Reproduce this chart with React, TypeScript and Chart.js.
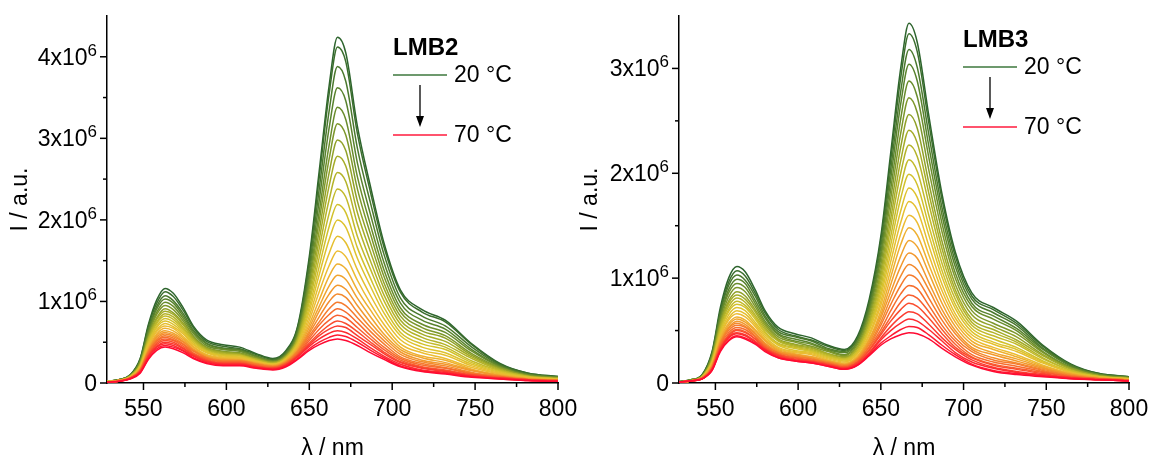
import React, { useEffect, useRef } from "react";
import { Chart, registerables } from "chart.js";

Chart.register(...registerables);

// ---------------- data (intensities in units of 10^6) ----------------
const WAVELENGTHS = [528, 535, 542, 548, 553, 558, 563, 568, 574, 580, 588, 598, 608, 618, 628, 636, 643, 650, 656, 662, 667, 672, 679, 687, 695, 705, 718, 732, 748, 765, 782, 800];

const TEMPERATURES = [20, 22, 24, 26, 28, 30, 32, 34, 36, 38, 40, 42, 44, 46, 48, 50, 52, 54, 56, 58, 60, 62, 64, 66, 68, 70];

const LMB2_SPECTRA = [
  [0.02, 0.04, 0.10, 0.30, 0.72, 1.02, 1.16, 1.10, 0.92, 0.70, 0.53, 0.47, 0.44, 0.36, 0.30, 0.40, 0.70, 1.55, 2.60, 3.65, 4.24, 4.05, 3.15, 2.40, 1.72, 1.14, 0.90, 0.77, 0.48, 0.24, 0.12, 0.08],
  [0.02, 0.04, 0.10, 0.29, 0.70, 0.98, 1.12, 1.06, 0.89, 0.68, 0.51, 0.45, 0.42, 0.35, 0.29, 0.39, 0.68, 1.50, 2.52, 3.55, 4.12, 3.94, 3.06, 2.33, 1.67, 1.11, 0.87, 0.75, 0.47, 0.23, 0.12, 0.08],
  [0.02, 0.04, 0.09, 0.28, 0.66, 0.94, 1.07, 1.01, 0.85, 0.65, 0.49, 0.43, 0.41, 0.33, 0.28, 0.37, 0.65, 1.42, 2.38, 3.34, 3.88, 3.70, 2.88, 2.20, 1.58, 1.04, 0.82, 0.70, 0.44, 0.22, 0.11, 0.07],
  [0.02, 0.04, 0.09, 0.27, 0.64, 0.91, 1.03, 0.98, 0.82, 0.63, 0.48, 0.42, 0.40, 0.33, 0.27, 0.36, 0.63, 1.35, 2.24, 3.13, 3.62, 3.46, 2.70, 2.06, 1.48, 0.98, 0.77, 0.66, 0.41, 0.21, 0.10, 0.07],
  [0.02, 0.04, 0.09, 0.26, 0.62, 0.87, 0.99, 0.94, 0.79, 0.61, 0.46, 0.41, 0.39, 0.32, 0.27, 0.35, 0.60, 1.28, 2.10, 2.92, 3.38, 3.23, 2.53, 1.93, 1.39, 0.92, 0.72, 0.62, 0.39, 0.20, 0.10, 0.07],
  [0.02, 0.03, 0.09, 0.25, 0.59, 0.84, 0.95, 0.90, 0.76, 0.58, 0.44, 0.39, 0.37, 0.31, 0.26, 0.34, 0.58, 1.22, 1.99, 2.75, 3.18, 3.04, 2.38, 1.82, 1.31, 0.87, 0.68, 0.58, 0.36, 0.19, 0.09, 0.06],
  [0.02, 0.03, 0.08, 0.24, 0.57, 0.80, 0.91, 0.86, 0.73, 0.56, 0.43, 0.38, 0.36, 0.30, 0.25, 0.33, 0.56, 1.16, 1.87, 2.58, 2.98, 2.85, 2.23, 1.71, 1.23, 0.82, 0.64, 0.55, 0.34, 0.18, 0.09, 0.06],
  [0.02, 0.03, 0.08, 0.23, 0.55, 0.78, 0.88, 0.84, 0.71, 0.55, 0.42, 0.37, 0.35, 0.29, 0.25, 0.32, 0.54, 1.10, 1.76, 2.42, 2.78, 2.66, 2.09, 1.60, 1.16, 0.77, 0.60, 0.51, 0.32, 0.17, 0.08, 0.06],
  [0.02, 0.03, 0.08, 0.22, 0.54, 0.75, 0.85, 0.81, 0.68, 0.53, 0.41, 0.36, 0.34, 0.29, 0.24, 0.32, 0.53, 1.04, 1.65, 2.25, 2.58, 2.47, 1.95, 1.49, 1.08, 0.72, 0.56, 0.47, 0.30, 0.16, 0.08, 0.05],
  [0.02, 0.03, 0.08, 0.22, 0.52, 0.73, 0.82, 0.78, 0.66, 0.52, 0.40, 0.35, 0.34, 0.28, 0.24, 0.31, 0.51, 0.99, 1.54, 2.08, 2.38, 2.28, 1.80, 1.39, 1.01, 0.67, 0.52, 0.44, 0.27, 0.15, 0.08, 0.05],
  [0.02, 0.03, 0.08, 0.21, 0.50, 0.70, 0.79, 0.75, 0.64, 0.50, 0.39, 0.34, 0.33, 0.27, 0.23, 0.30, 0.49, 0.93, 1.43, 1.92, 2.19, 2.09, 1.66, 1.28, 0.93, 0.62, 0.48, 0.41, 0.25, 0.14, 0.07, 0.05],
  [0.02, 0.03, 0.07, 0.20, 0.48, 0.68, 0.76, 0.72, 0.62, 0.48, 0.38, 0.33, 0.32, 0.27, 0.23, 0.30, 0.48, 0.88, 1.33, 1.76, 2.00, 1.91, 1.53, 1.18, 0.86, 0.58, 0.44, 0.37, 0.23, 0.13, 0.07, 0.05],
  [0.01, 0.03, 0.07, 0.19, 0.47, 0.65, 0.73, 0.69, 0.60, 0.47, 0.37, 0.32, 0.31, 0.26, 0.23, 0.29, 0.46, 0.82, 1.22, 1.59, 1.80, 1.72, 1.39, 1.07, 0.79, 0.53, 0.40, 0.34, 0.21, 0.12, 0.06, 0.04],
  [0.01, 0.03, 0.07, 0.19, 0.45, 0.63, 0.70, 0.67, 0.57, 0.45, 0.35, 0.31, 0.30, 0.26, 0.22, 0.28, 0.44, 0.77, 1.12, 1.44, 1.62, 1.55, 1.26, 0.97, 0.72, 0.48, 0.37, 0.30, 0.19, 0.11, 0.06, 0.04],
  [0.01, 0.03, 0.07, 0.18, 0.43, 0.60, 0.67, 0.64, 0.55, 0.44, 0.34, 0.30, 0.29, 0.25, 0.22, 0.28, 0.43, 0.72, 1.02, 1.31, 1.46, 1.40, 1.14, 0.89, 0.66, 0.44, 0.33, 0.28, 0.17, 0.10, 0.06, 0.04],
  [0.01, 0.03, 0.07, 0.17, 0.41, 0.58, 0.64, 0.61, 0.53, 0.42, 0.33, 0.29, 0.28, 0.24, 0.21, 0.27, 0.41, 0.68, 0.94, 1.19, 1.32, 1.27, 1.04, 0.81, 0.60, 0.41, 0.31, 0.25, 0.16, 0.09, 0.05, 0.03],
  [0.01, 0.03, 0.07, 0.17, 0.40, 0.56, 0.62, 0.59, 0.51, 0.41, 0.32, 0.28, 0.28, 0.24, 0.21, 0.26, 0.40, 0.64, 0.88, 1.09, 1.20, 1.15, 0.95, 0.74, 0.56, 0.38, 0.28, 0.23, 0.15, 0.09, 0.05, 0.03],
  [0.01, 0.03, 0.06, 0.16, 0.39, 0.54, 0.60, 0.57, 0.50, 0.40, 0.31, 0.28, 0.27, 0.23, 0.20, 0.26, 0.39, 0.61, 0.81, 1.00, 1.09, 1.05, 0.87, 0.68, 0.52, 0.35, 0.26, 0.21, 0.13, 0.08, 0.05, 0.03],
  [0.01, 0.03, 0.06, 0.16, 0.38, 0.52, 0.58, 0.55, 0.48, 0.39, 0.31, 0.27, 0.27, 0.23, 0.20, 0.25, 0.38, 0.58, 0.75, 0.91, 0.99, 0.95, 0.80, 0.63, 0.48, 0.32, 0.24, 0.19, 0.12, 0.08, 0.04, 0.03],
  [0.01, 0.02, 0.06, 0.15, 0.37, 0.51, 0.56, 0.53, 0.47, 0.37, 0.30, 0.26, 0.26, 0.22, 0.19, 0.24, 0.36, 0.55, 0.71, 0.84, 0.91, 0.87, 0.74, 0.58, 0.44, 0.30, 0.22, 0.18, 0.11, 0.07, 0.04, 0.03],
  [0.01, 0.02, 0.06, 0.15, 0.35, 0.49, 0.54, 0.52, 0.45, 0.36, 0.29, 0.25, 0.25, 0.21, 0.19, 0.24, 0.35, 0.52, 0.66, 0.77, 0.83, 0.80, 0.68, 0.54, 0.41, 0.28, 0.20, 0.16, 0.10, 0.07, 0.04, 0.03],
  [0.01, 0.02, 0.06, 0.14, 0.34, 0.47, 0.52, 0.50, 0.43, 0.35, 0.28, 0.24, 0.24, 0.21, 0.18, 0.23, 0.34, 0.49, 0.61, 0.71, 0.76, 0.73, 0.63, 0.50, 0.38, 0.26, 0.19, 0.15, 0.10, 0.06, 0.04, 0.02],
  [0.01, 0.02, 0.06, 0.14, 0.33, 0.45, 0.50, 0.48, 0.42, 0.34, 0.27, 0.24, 0.24, 0.20, 0.18, 0.22, 0.33, 0.47, 0.58, 0.66, 0.70, 0.68, 0.58, 0.47, 0.36, 0.25, 0.18, 0.14, 0.09, 0.06, 0.04, 0.02],
  [0.01, 0.02, 0.05, 0.13, 0.32, 0.44, 0.48, 0.46, 0.40, 0.33, 0.26, 0.23, 0.23, 0.19, 0.17, 0.22, 0.32, 0.45, 0.54, 0.61, 0.64, 0.62, 0.54, 0.43, 0.33, 0.23, 0.16, 0.13, 0.08, 0.06, 0.03, 0.02],
  [0.01, 0.02, 0.05, 0.13, 0.30, 0.42, 0.46, 0.44, 0.39, 0.31, 0.25, 0.22, 0.22, 0.19, 0.17, 0.21, 0.30, 0.42, 0.50, 0.56, 0.59, 0.57, 0.50, 0.40, 0.31, 0.21, 0.15, 0.12, 0.08, 0.05, 0.03, 0.02],
  [0.01, 0.02, 0.05, 0.12, 0.29, 0.40, 0.44, 0.42, 0.37, 0.30, 0.24, 0.21, 0.21, 0.18, 0.16, 0.20, 0.29, 0.40, 0.47, 0.52, 0.54, 0.52, 0.46, 0.37, 0.29, 0.20, 0.14, 0.11, 0.07, 0.05, 0.03, 0.02],
];

const LMB3_SPECTRA = [
  [0.01, 0.03, 0.08, 0.30, 0.72, 1.00, 1.11, 1.06, 0.89, 0.69, 0.53, 0.47, 0.43, 0.36, 0.32, 0.45, 0.80, 1.40, 2.20, 3.00, 3.43, 3.25, 2.55, 1.80, 1.25, 0.86, 0.72, 0.59, 0.36, 0.18, 0.09, 0.06],
  [0.01, 0.03, 0.08, 0.29, 0.69, 0.96, 1.07, 1.02, 0.86, 0.67, 0.51, 0.45, 0.41, 0.35, 0.31, 0.43, 0.77, 1.36, 2.13, 2.91, 3.33, 3.16, 2.48, 1.75, 1.21, 0.83, 0.70, 0.57, 0.35, 0.17, 0.09, 0.06],
  [0.01, 0.03, 0.07, 0.28, 0.67, 0.93, 1.03, 0.98, 0.83, 0.64, 0.49, 0.44, 0.40, 0.33, 0.30, 0.42, 0.74, 1.30, 2.04, 2.78, 3.18, 3.01, 2.37, 1.67, 1.16, 0.80, 0.67, 0.55, 0.33, 0.17, 0.08, 0.06],
  [0.01, 0.03, 0.07, 0.27, 0.64, 0.89, 0.99, 0.95, 0.79, 0.62, 0.47, 0.42, 0.38, 0.32, 0.29, 0.40, 0.71, 1.24, 1.95, 2.66, 3.04, 2.88, 2.26, 1.60, 1.11, 0.76, 0.64, 0.52, 0.32, 0.16, 0.08, 0.05],
  [0.01, 0.03, 0.07, 0.26, 0.62, 0.86, 0.95, 0.91, 0.76, 0.59, 0.46, 0.40, 0.37, 0.31, 0.27, 0.39, 0.68, 1.19, 1.85, 2.52, 2.88, 2.73, 2.15, 1.52, 1.05, 0.73, 0.61, 0.50, 0.30, 0.15, 0.08, 0.05],
  [0.01, 0.03, 0.07, 0.25, 0.59, 0.82, 0.91, 0.87, 0.73, 0.57, 0.44, 0.39, 0.35, 0.30, 0.26, 0.37, 0.65, 1.13, 1.76, 2.38, 2.72, 2.58, 2.03, 1.44, 1.00, 0.69, 0.57, 0.47, 0.29, 0.14, 0.07, 0.05],
  [0.01, 0.02, 0.06, 0.24, 0.57, 0.78, 0.87, 0.83, 0.70, 0.55, 0.42, 0.37, 0.34, 0.28, 0.25, 0.35, 0.62, 1.07, 1.66, 2.25, 2.56, 2.43, 1.91, 1.35, 0.94, 0.65, 0.54, 0.44, 0.27, 0.14, 0.07, 0.05],
  [0.01, 0.02, 0.06, 0.23, 0.55, 0.76, 0.84, 0.80, 0.68, 0.53, 0.41, 0.36, 0.33, 0.28, 0.24, 0.34, 0.59, 1.02, 1.57, 2.12, 2.41, 2.29, 1.81, 1.28, 0.89, 0.61, 0.51, 0.41, 0.26, 0.13, 0.07, 0.04],
  [0.01, 0.02, 0.06, 0.22, 0.53, 0.73, 0.81, 0.77, 0.65, 0.51, 0.40, 0.35, 0.32, 0.27, 0.23, 0.33, 0.57, 0.97, 1.49, 2.00, 2.27, 2.16, 1.71, 1.21, 0.85, 0.58, 0.48, 0.39, 0.24, 0.12, 0.06, 0.04],
  [0.01, 0.02, 0.06, 0.21, 0.51, 0.70, 0.78, 0.74, 0.63, 0.49, 0.38, 0.34, 0.31, 0.26, 0.23, 0.31, 0.54, 0.92, 1.40, 1.87, 2.13, 2.02, 1.60, 1.14, 0.80, 0.55, 0.45, 0.37, 0.23, 0.12, 0.06, 0.04],
  [0.01, 0.02, 0.06, 0.20, 0.49, 0.68, 0.75, 0.72, 0.61, 0.48, 0.37, 0.33, 0.30, 0.25, 0.22, 0.30, 0.52, 0.87, 1.32, 1.76, 1.99, 1.89, 1.50, 1.07, 0.75, 0.52, 0.42, 0.34, 0.21, 0.11, 0.06, 0.04],
  [0.01, 0.02, 0.06, 0.20, 0.47, 0.65, 0.72, 0.69, 0.58, 0.46, 0.36, 0.31, 0.29, 0.24, 0.21, 0.29, 0.50, 0.83, 1.24, 1.64, 1.86, 1.77, 1.41, 1.01, 0.71, 0.49, 0.39, 0.32, 0.20, 0.10, 0.06, 0.04],
  [0.01, 0.02, 0.05, 0.19, 0.45, 0.62, 0.69, 0.66, 0.56, 0.44, 0.34, 0.30, 0.28, 0.23, 0.20, 0.28, 0.47, 0.78, 1.16, 1.53, 1.73, 1.65, 1.31, 0.94, 0.66, 0.46, 0.37, 0.30, 0.19, 0.10, 0.05, 0.04],
  [0.01, 0.02, 0.05, 0.18, 0.44, 0.60, 0.66, 0.63, 0.54, 0.42, 0.33, 0.29, 0.27, 0.22, 0.19, 0.26, 0.45, 0.74, 1.08, 1.42, 1.60, 1.53, 1.22, 0.88, 0.62, 0.43, 0.34, 0.27, 0.17, 0.09, 0.05, 0.03],
  [0.01, 0.02, 0.05, 0.17, 0.42, 0.57, 0.63, 0.60, 0.51, 0.41, 0.32, 0.28, 0.25, 0.21, 0.18, 0.25, 0.42, 0.69, 1.01, 1.32, 1.48, 1.41, 1.13, 0.82, 0.58, 0.40, 0.32, 0.25, 0.16, 0.09, 0.05, 0.03],
  [0.01, 0.02, 0.05, 0.17, 0.40, 0.55, 0.61, 0.58, 0.50, 0.40, 0.31, 0.27, 0.25, 0.21, 0.18, 0.24, 0.41, 0.65, 0.94, 1.21, 1.36, 1.30, 1.05, 0.76, 0.54, 0.37, 0.29, 0.23, 0.15, 0.08, 0.05, 0.03],
  [0.01, 0.02, 0.05, 0.16, 0.39, 0.53, 0.59, 0.56, 0.48, 0.38, 0.30, 0.27, 0.24, 0.20, 0.17, 0.23, 0.39, 0.62, 0.87, 1.11, 1.24, 1.19, 0.96, 0.70, 0.50, 0.34, 0.27, 0.21, 0.14, 0.08, 0.04, 0.03],
  [0.01, 0.02, 0.05, 0.16, 0.38, 0.52, 0.57, 0.54, 0.47, 0.37, 0.29, 0.26, 0.23, 0.20, 0.17, 0.23, 0.37, 0.58, 0.81, 1.02, 1.13, 1.08, 0.89, 0.65, 0.47, 0.32, 0.24, 0.19, 0.13, 0.07, 0.04, 0.03],
  [0.01, 0.02, 0.05, 0.15, 0.37, 0.50, 0.55, 0.53, 0.45, 0.36, 0.29, 0.25, 0.23, 0.19, 0.16, 0.22, 0.35, 0.55, 0.75, 0.93, 1.03, 0.99, 0.81, 0.60, 0.43, 0.30, 0.22, 0.18, 0.12, 0.07, 0.04, 0.03],
  [0.01, 0.02, 0.05, 0.14, 0.36, 0.48, 0.53, 0.51, 0.44, 0.35, 0.28, 0.24, 0.22, 0.19, 0.16, 0.21, 0.34, 0.51, 0.69, 0.85, 0.93, 0.90, 0.74, 0.55, 0.40, 0.27, 0.20, 0.16, 0.11, 0.06, 0.04, 0.03],
  [0.01, 0.02, 0.04, 0.14, 0.34, 0.46, 0.51, 0.49, 0.42, 0.34, 0.27, 0.24, 0.21, 0.18, 0.15, 0.20, 0.32, 0.48, 0.63, 0.77, 0.84, 0.81, 0.68, 0.51, 0.37, 0.25, 0.18, 0.14, 0.10, 0.06, 0.04, 0.02],
  [0.01, 0.02, 0.04, 0.14, 0.34, 0.45, 0.50, 0.48, 0.42, 0.33, 0.27, 0.23, 0.21, 0.18, 0.15, 0.20, 0.31, 0.46, 0.59, 0.70, 0.76, 0.73, 0.62, 0.47, 0.34, 0.24, 0.17, 0.13, 0.09, 0.05, 0.04, 0.02],
  [0.01, 0.02, 0.04, 0.13, 0.32, 0.44, 0.48, 0.46, 0.40, 0.32, 0.26, 0.22, 0.20, 0.17, 0.14, 0.19, 0.29, 0.43, 0.54, 0.63, 0.68, 0.66, 0.56, 0.43, 0.32, 0.22, 0.15, 0.11, 0.08, 0.05, 0.03, 0.02],
  [0.01, 0.02, 0.04, 0.13, 0.32, 0.43, 0.47, 0.45, 0.39, 0.32, 0.25, 0.22, 0.20, 0.17, 0.14, 0.18, 0.28, 0.41, 0.50, 0.57, 0.61, 0.59, 0.51, 0.40, 0.29, 0.20, 0.14, 0.10, 0.07, 0.05, 0.03, 0.02],
  [0.01, 0.02, 0.04, 0.12, 0.31, 0.41, 0.45, 0.43, 0.38, 0.31, 0.24, 0.21, 0.19, 0.16, 0.13, 0.17, 0.27, 0.38, 0.45, 0.51, 0.54, 0.53, 0.46, 0.36, 0.27, 0.18, 0.12, 0.09, 0.07, 0.04, 0.03, 0.02],
  [0.01, 0.02, 0.04, 0.12, 0.30, 0.40, 0.44, 0.42, 0.37, 0.30, 0.24, 0.21, 0.19, 0.16, 0.13, 0.17, 0.26, 0.36, 0.42, 0.46, 0.48, 0.47, 0.42, 0.33, 0.25, 0.17, 0.11, 0.08, 0.06, 0.04, 0.03, 0.02],
];

const X_TICKS = [550, 575, 600, 625, 650, 675, 700, 725, 750, 775, 800];
const LMB2_Y_TICKS = [0, 0.5, 1, 1.5, 2, 2.5, 3, 3.5, 4];
const LMB3_Y_TICKS = [0, 0.5, 1, 1.5, 2, 2.5, 3];
const Y_EXPONENT = "6";

// ---------------- styling ----------------
const FONT = "Arial, 'Liberation Sans', Helvetica, sans-serif";
Chart.defaults.font.family = FONT;

const COLOR_STOPS: [number, number[]][] = [
  [0, [45, 100, 45]],
  [0.14, [95, 135, 45]],
  [0.28, [165, 172, 40]],
  [0.42, [218, 196, 45]],
  [0.52, [236, 188, 50]],
  [0.64, [242, 152, 45]],
  [0.78, [247, 102, 45]],
  [0.9, [252, 52, 48]],
  [1, [255, 10, 50]],
];

function curveColor(t: number): string {
  for (let i = 1; i < COLOR_STOPS.length; i++) {
    const [t0, c0] = COLOR_STOPS[i - 1];
    const [t1, c1] = COLOR_STOPS[i];
    if (t <= t1) {
      const f = (t - t0) / (t1 - t0);
      return `rgb(${c0.map((c, j) => Math.round(c + (c1[j] - c) * f)).join(",")})`;
    }
  }
  const last = COLOR_STOPS[COLOR_STOPS.length - 1][1];
  return `rgb(${last.join(",")})`;
}

const LEGEND_GREEN = "#3d773d";
const LEGEND_RED = "#ff1a3c";

function overlayPlugin(title: string, legendDx: number, legendDy: number) {
  return {
    id: "overlay_" + title,
    afterDraw(chart: any) {
      const { ctx, chartArea, scales } = chart;
      ctx.save();
      ctx.strokeStyle = "#000";
      ctx.lineWidth = 1.5;
      // x tick marks (outward)
      for (const t of scales.x.ticks) {
        const px = scales.x.getPixelForValue(t.value);
        const len = t.value % 50 === 0 ? 7 : 4;
        ctx.beginPath();
        ctx.moveTo(px, chartArea.bottom);
        ctx.lineTo(px, chartArea.bottom + len);
        ctx.stroke();
      }
      // y tick marks (outward) and labels with superscript exponent
      ctx.fillStyle = "#000";
      ctx.textAlign = "right";
      ctx.textBaseline = "alphabetic";
      const labelRight = chartArea.left - 10;
      for (const t of scales.y.ticks) {
        const py = scales.y.getPixelForValue(t.value);
        const major = Number.isInteger(t.value);
        const len = major ? 7 : 4;
        ctx.beginPath();
        ctx.moveTo(chartArea.left, py);
        ctx.lineTo(chartArea.left - len, py);
        ctx.stroke();
        if (!major) continue;
        if (t.value === 0) {
          ctx.font = `23px ${FONT}`;
          ctx.fillText("0", labelRight, py + 8);
        } else {
          ctx.font = `17px ${FONT}`;
          const supW = ctx.measureText(Y_EXPONENT).width;
          ctx.fillText(Y_EXPONENT, labelRight, py - 1);
          ctx.font = `23px ${FONT}`;
          ctx.fillText(`${t.value}x10`, labelRight - supW, py + 8);
        }
      }
      // legend block
      const lx = chartArea.left + legendDx;
      const ly = chartArea.top + legendDy;
      ctx.textAlign = "left";
      ctx.textBaseline = "alphabetic";
      ctx.font = `bold 24px ${FONT}`;
      ctx.fillText(title, lx, ly);

      ctx.lineWidth = 1.6;
      ctx.strokeStyle = LEGEND_GREEN;
      ctx.beginPath();
      ctx.moveTo(lx, ly + 20);
      ctx.lineTo(lx + 54, ly + 20);
      ctx.stroke();

      ctx.strokeStyle = LEGEND_RED;
      ctx.beginPath();
      ctx.moveTo(lx, ly + 80);
      ctx.lineTo(lx + 54, ly + 80);
      ctx.stroke();

      ctx.font = `23px ${FONT}`;
      ctx.textBaseline = "middle";
      ctx.fillText(`${TEMPERATURES[0]} °C`, lx + 61, ly + 21);
      ctx.fillText(`${TEMPERATURES[TEMPERATURES.length - 1]} °C`, lx + 61, ly + 81);

      // arrow
      ctx.strokeStyle = "#000";
      ctx.lineWidth = 1.3;
      ctx.beginPath();
      ctx.moveTo(lx + 27, ly + 30);
      ctx.lineTo(lx + 27, ly + 64);
      ctx.stroke();
      ctx.beginPath();
      ctx.moveTo(lx + 23, ly + 61);
      ctx.lineTo(lx + 31, ly + 61);
      ctx.lineTo(lx + 27, ly + 72);
      ctx.closePath();
      ctx.fill();
      ctx.restore();
    },
  };
}

type PanelProps = {
  spectra: number[][];
  title: string;
  yMax: number;
  yTicks: number[];
  canvasLeft: number;
  canvasWidth: number;
  axisWidth: number;
  rightPad: number;
  legendDx: number;
  legendDy: number;
};

function Panel(props: PanelProps) {
  const ref = useRef<HTMLCanvasElement>(null);
  useEffect(() => {
    const { spectra, title, yMax, yTicks, axisWidth, rightPad, legendDx, legendDy } = props;
    const n = spectra.length;
    const chart = new Chart(ref.current as HTMLCanvasElement, {
      type: "line",
      data: {
        datasets: spectra.map((row, k) => ({
          label: `${TEMPERATURES[k]} °C`,
          data: WAVELENGTHS.map((w, i) => ({ x: w, y: row[i] })),
          borderColor: curveColor(k / (n - 1)),
          borderWidth: 1.5,
          pointRadius: 0,
          fill: false,
          cubicInterpolationMode: "monotone",
          order: n - 1 - k,
        })),
      },
      options: {
        animation: false,
        responsive: false,
        devicePixelRatio: 1,
        events: [],
        layout: { padding: { left: 0, top: 16, right: rightPad, bottom: 0 } },
        plugins: { legend: { display: false }, tooltip: { enabled: false } },
        scales: {
          x: {
            type: "linear",
            min: 528,
            max: 800,
            afterBuildTicks: (s: any) => {
              s.ticks = X_TICKS.map((v) => ({ value: v }));
            },
            afterFit: (s: any) => {
              s.height = 76;
              s.paddingLeft = 0;
              s.paddingRight = 0;
            },
            grid: { display: false, drawTicks: false },
            border: { display: true, color: "#000", width: 1.5 },
            ticks: {
              color: "#000",
              font: { family: FONT, size: 23 },
              padding: 13,
              maxRotation: 0,
              autoSkip: false,
              callback: (v: any) => (Number(v) % 50 === 0 ? String(v) : ""),
            },
            title: {
              display: true,
              text: "λ / nm",
              color: "#000",
              font: { family: FONT, size: 23 },
              padding: { top: 0, bottom: -3 },
            },
          },
          y: {
            type: "linear",
            min: 0,
            max: yMax,
            afterBuildTicks: (s: any) => {
              s.ticks = yTicks.map((v) => ({ value: v }));
            },
            afterFit: (s: any) => {
              s.width = axisWidth;
              s.paddingTop = 0;
              s.paddingBottom = 0;
            },
            grid: { display: false, drawTicks: false },
            border: { display: true, color: "#000", width: 1.5 },
            ticks: { display: false },
            title: {
              display: true,
              text: "I / a.u.",
              color: "#000",
              font: { family: FONT, size: 23 },
              padding: { top: 7, bottom: 0 },
            },
          },
        },
      } as any,
      plugins: [overlayPlugin(title, legendDx, legendDy)],
    } as any);
    return () => chart.destroy();
  }, []);
  return (
    <canvas
      ref={ref}
      width={props.canvasWidth}
      height={459}
      style={{
        position: "absolute",
        left: props.canvasLeft,
        top: 0,
        width: props.canvasWidth,
        height: 459,
      }}
    />
  );
}

export default function App() {
  return (
    <div style={{ position: "absolute", left: 0, top: 0, width: 1154, height: 459, background: "#fff", overflow: "hidden" }}>
      <Panel
        spectra={LMB2_SPECTRA}
        title="LMB2"
        yMax={4.5}
        yTicks={LMB2_Y_TICKS}
        canvasLeft={0}
        canvasWidth={590}
        axisWidth={107}
        rightPad={32}
        legendDx={286}
        legendDy={39}
      />
      <Panel
        spectra={LMB3_SPECTRA}
        title="LMB3"
        yMax={3.5}
        yTicks={LMB3_Y_TICKS}
        canvasLeft={570}
        canvasWidth={584}
        axisWidth={109}
        rightPad={25}
        legendDx={284}
        legendDy={31}
      />
    </div>
  );
}
